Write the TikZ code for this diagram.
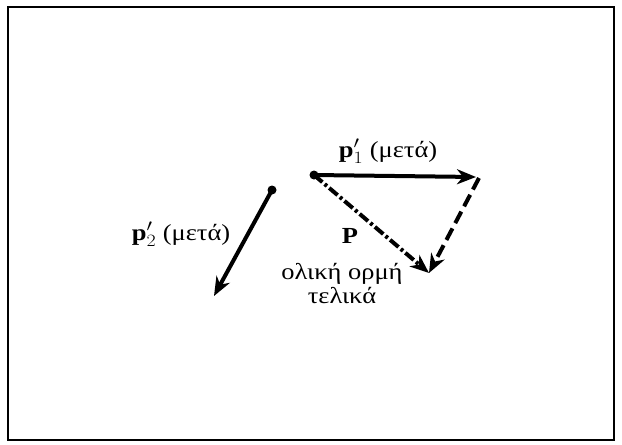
\documentclass[tikz,border=0pt]{standalone}
\usepackage{fontspec}
\setmainfont{Liberation Serif}
\usetikzlibrary{arrows.meta}
\begin{document}
\begin{tikzpicture}[x=1pt,y=-1pt,
  vec/.style={line width=4pt,-{Stealth[length=19pt,width=15pt,inset=6pt]}},
  dashvec/.style={vec,dash pattern=on 13pt off 6pt},
  dotvec/.style={vec,dash pattern=on 11pt off 3pt on 3pt off 3pt},
  lbl/.style={font=\fontsize{23}{26}\selectfont,inner sep=0pt,xscale=1.15},
  pt/.style={circle,fill,inner sep=0pt,minimum size=9pt}]
\useasboundingbox (0,0) rectangle (622,445);
\draw[line width=2.4pt] (8,7) rectangle (614,440);
\node[pt] (o1) at (314,175) {};
\node[pt] (o2) at (272,190) {};
\coordinate (e1) at (476,177);
\coordinate (e3) at (429,273);
\coordinate (e2) at (214,296);
\draw[vec] (o1.center) -- (e1);
\draw[dashvec] (479,178) -- (e3);
\draw[dotvec] (o1.center) -- (e3);
\draw[vec] (o2.center) -- (e2);
\node[lbl] (l1) at (388,151) {$\mathbf{p}'_1$ (μετά)};
\node[lbl] (l2) at (181,234) {$\mathbf{p}'_2$ (μετά)};
\node[lbl] (lP) at (350,236) {\textbf{P}};
\node[lbl,align=center] (lt) at (342,283) {ολική ορμή\\[-2pt]τελικά};
\end{tikzpicture}
\end{document}
